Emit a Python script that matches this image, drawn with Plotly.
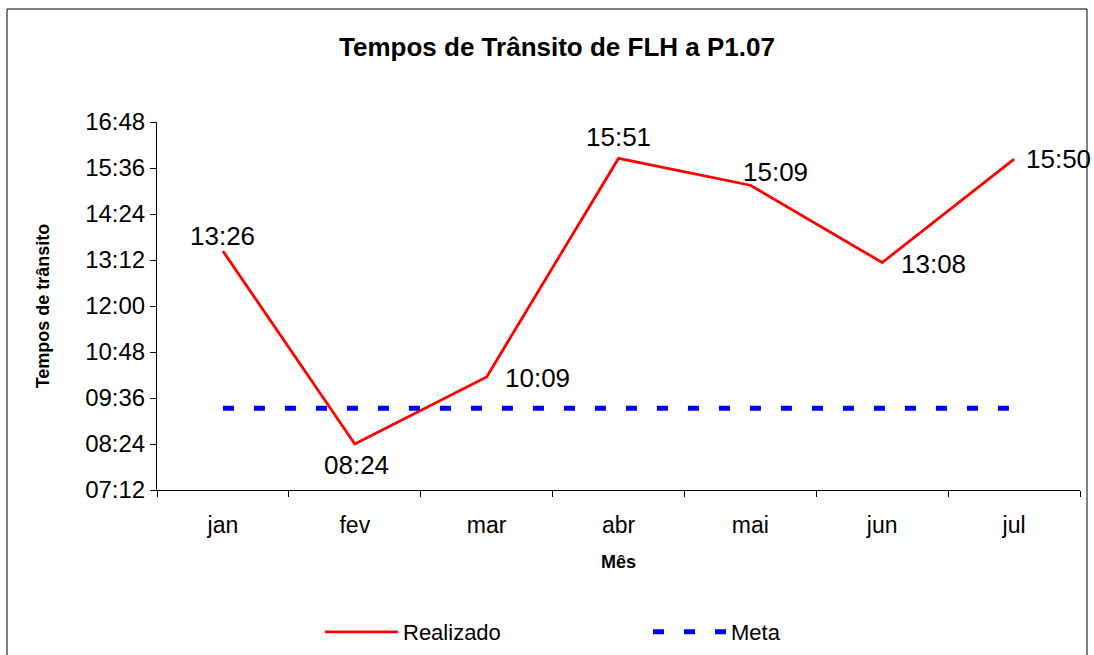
import plotly.graph_objects as go

months = ["jan", "fev", "mar", "abr", "mai", "jun", "jul"]
realizado = ["13:26", "08:24", "10:09", "15:51", "15:09", "13:08", "15:50"]
meta = ["09:20"] * 7
tick_labels = ["07:12", "08:24", "09:36", "10:48", "12:00", "13:12", "14:24", "15:36", "16:48"]
# label offsets (pixels) relative to each point: (dx, dy_up)
label_shift = [(0, 15), (2, -21), (51, -1), (0, 21), (25, 13), (51, -1), (44, 0)]


def to_min(s):
    h, m = s.split(":")
    return int(h) * 60 + int(m)


real_min = [to_min(v) for v in realizado]
meta_min = [to_min(v) for v in meta]
tick_vals = [to_min(v) for v in tick_labels]

W, H = 1094, 655
L, R, T, B = 157, 1080, 122, 490
FONT = "Liberation Sans, Arial, sans-serif"

fig = go.Figure()
fig.add_trace(go.Scatter(
    x=months, y=real_min, mode="lines", name="Realizado",
    line=dict(color="#FF0000", width=2.8),
))
fig.add_trace(go.Scatter(
    x=months, y=meta_min, mode="lines", name="Meta",
    line=dict(color="#0000FF", width=5, dash="11px,20px"),
))

for m, v, txt, (dx, dy) in zip(months, real_min, realizado, label_shift):
    fig.add_annotation(x=m, y=v, text=txt, showarrow=False,
                       xanchor="center", yanchor="middle",
                       xshift=dx, yshift=dy,
                       font=dict(family=FONT, size=26, color="black"))

pw, ph = R - L, B - T
fig.add_shape(type="rect", xref="paper", yref="paper",
              x0=(7 - L) / pw, x1=(1087 - L) / pw,
              y0=(B - 670) / ph, y1=(B - 9) / ph,
              line=dict(color="black", width=1), fillcolor="rgba(0,0,0,0)")

fig.update_layout(
    width=W, height=H,
    margin=dict(l=L, r=W - R, t=T, b=H - B, autoexpand=False),
    paper_bgcolor="white", plot_bgcolor="white",
    font=dict(family=FONT, color="black"),
    title=dict(text="<b>Tempos de Trânsito de FLH a P1.07</b>",
               x=557 / W, xanchor="center", y=1 - 47 / H, yanchor="middle",
               font=dict(size=26)),
    xaxis=dict(
        type="category", range=[-0.5, 6.5], automargin=False,
        showline=True, linecolor="black", linewidth=1,
        ticks="outside", tickson="boundaries", ticklen=6, tickcolor="black",
        tickfont=dict(size=23), showgrid=False, zeroline=False,
        ticklabelstandoff=14,
        title=dict(text="<b>Mês</b>", font=dict(size=18), standoff=18),
    ),
    yaxis=dict(
        range=[tick_vals[0], tick_vals[-1]], automargin=False,
        tickmode="array", tickvals=tick_vals, ticktext=tick_labels,
        showline=True, linecolor="black", linewidth=1,
        ticks="outside", ticklen=6, tickcolor="black",
        tickfont=dict(size=24), showgrid=False, zeroline=False,
        title=dict(text="<b>Tempos de trânsito</b>", font=dict(size=18), standoff=30),
    ),
    showlegend=True,
    legend=dict(orientation="h", x=(320 - L) / pw, xanchor="left",
                y=-(632 - B) / ph, yanchor="middle",
                entrywidth=240, entrywidthmode="pixels", itemwidth=73,
                font=dict(size=22), bgcolor="rgba(0,0,0,0)"),
)

fig.write_html("out.html", config={"displayModeBar": False},
               post_script="document.body.style.margin='0px';document.body.style.overflow='hidden';")
